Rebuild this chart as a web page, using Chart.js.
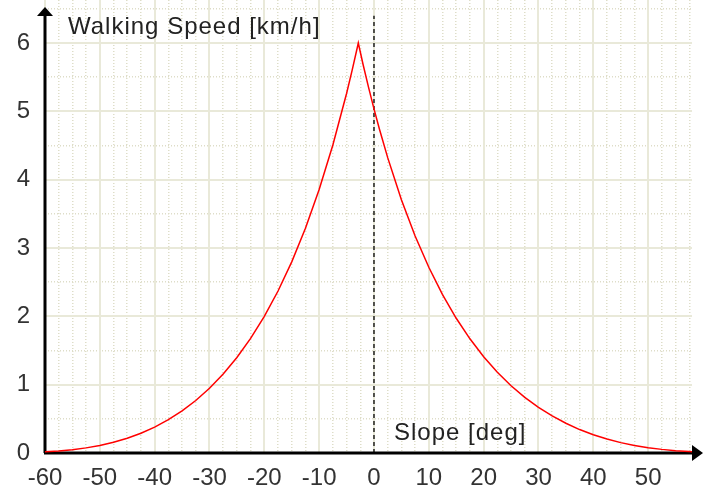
<!DOCTYPE html>
<html>
<head>
<meta charset="utf-8">
<script src="https://cdn.jsdelivr.net/npm/chart.js@4/dist/chart.umd.min.js"></script>
<style>
  body { margin: 0; background: #fff; }
  #wrap { width: 708px; height: 491px; position: relative; }
</style>
</head>
<body>
<div id="wrap"><canvas id="speedChart"></canvas></div>
<script>
// slope in degrees, walking speed in km/h
var slopeDeg = [-60, -57.5, -55, -52.5, -50, -47.5, -45, -42.5, -40, -37.5, -35, -32.5, -30, -27.5, -25, -22.5, -20, -17.5, -15, -12.5, -10, -7.5, -5, -4, -3, -2.86, -2, -1, 0, 1, 2.5, 5, 7.5, 10, 12.5, 15, 17.5, 20, 22.5, 25, 27.5, 30, 32.5, 35, 37.5, 40, 42.5, 45, 47.5, 50, 52.5, 55, 57.5, 58];
var speedKmh = [0.017, 0.029, 0.048, 0.075, 0.11, 0.157, 0.216, 0.289, 0.379, 0.487, 0.616, 0.768, 0.947, 1.156, 1.397, 1.677, 2.0, 2.371, 2.798, 3.29, 3.856, 4.508, 5.262, 5.596, 5.95, 6.0, 5.69, 5.354, 5.037, 4.738, 4.323, 3.708, 3.177, 2.718, 2.318, 1.972, 1.671, 1.409, 1.182, 0.985, 0.814, 0.668, 0.542, 0.435, 0.343, 0.267, 0.204, 0.152, 0.11, 0.078, 0.053, 0.034, 0.021, 0.018];
var zeroLineX = [0, 0];
var zeroLineY = [0, 6.4];
var xTicks = [-60, 58];
var yTicks = [0, 6.63];
var yTitle = "Walking Speed [km/h]";
var xTitle = "Slope [deg]";

var FONT = "'Liberation Sans', Arial, sans-serif";
var majorGrid = "#e9e9d9";
var minorGrid = "#deddc8";

function noPad(s) {
  s.paddingTop = 0;
  s.paddingBottom = 0;
  s.paddingLeft = 0;
  s.paddingRight = 0;
}

// black axes with arrow heads + the two axis captions
var axesPlugin = {
  id: "axesPlugin",
  beforeDatasetsDraw: function (chart) {
    var c = chart.ctx;
    var x0 = chart.scales.x.getPixelForValue(-60);
    var y0 = chart.scales.y.getPixelForValue(0);
    c.save();
    c.strokeStyle = "#000";
    c.fillStyle = "#000";
    c.lineWidth = 3;
    c.beginPath();
    c.moveTo(x0, y0);
    c.lineTo(x0, 14);
    c.moveTo(x0 - 1, y0);
    c.lineTo(695, y0);
    c.stroke();
    c.beginPath();
    c.moveTo(x0, 7);
    c.lineTo(x0 - 8, 16);
    c.lineTo(x0 + 8, 16);
    c.closePath();
    c.fill();
    c.beginPath();
    c.moveTo(703, y0);
    c.lineTo(692, y0 - 8);
    c.lineTo(692, y0 + 8);
    c.closePath();
    c.fill();
    c.restore();
  },
  afterDraw: function (chart) {
    var c = chart.ctx;
    c.save();
    c.fillStyle = "#222";
    c.font = "24px " + FONT;
    c.letterSpacing = "1px";
    c.textBaseline = "alphabetic";
    c.fillText(yTitle, 68, 34);
    c.fillText(xTitle, 394, 440);
    c.restore();
  },
};

var ctx = document.getElementById("speedChart").getContext("2d");
var chart = new Chart(ctx, {
  type: "scatter",
  data: {
    datasets: [
      {
        label: "speed",
        data: slopeDeg.map((d, i) => ({ x: d, y: speedKmh[i] })),
        showLine: true,
        borderColor: "#ff0000",
        borderWidth: 1.5,
        pointRadius: 0,
        tension: 0,
      },
      {
        label: "zero",
        data: zeroLineX.map((d, i) => ({ x: d, y: zeroLineY[i] })),
        showLine: true,
        borderColor: "#000",
        borderWidth: 1.3,
        borderDash: [4, 3],
        pointRadius: 0,
      },
    ],
  },
  options: {
    responsive: true,
    maintainAspectRatio: false,
    animation: false,
    layout: { padding: { top: 0, right: 16, bottom: 0, left: 0 } },
    plugins: { legend: { display: false }, tooltip: { enabled: false } },
    scales: {
      xMinor: {
        type: "linear",
        position: "bottom",
        min: xTicks[0],
        max: xTicks[1],
        ticks: { display: false, stepSize: 2.5, includeBounds: false },
        grid: {
          drawTicks: false,
          lineWidth: 1.5,
          color: (c) => (c.tick && c.tick.value % 10 === 0 ? "rgba(0,0,0,0)" : minorGrid),
        },
        border: { display: false, dash: [1, 2] },
        afterFit: (s) => { s.height = 0; noPad(s); },
      },
      yMinor: {
        type: "linear",
        position: "left",
        min: yTicks[0],
        max: yTicks[1],
        ticks: { display: false, stepSize: 0.5, includeBounds: false },
        grid: {
          drawTicks: false,
          lineWidth: 1.5,
          color: (c) => (c.tick && c.tick.value % 1 === 0 ? "rgba(0,0,0,0)" : minorGrid),
        },
        border: { display: false, dash: [1, 2] },
        afterFit: (s) => { s.width = 0; noPad(s); },
      },
      x: {
        type: "linear",
        position: "bottom",
        min: xTicks[0],
        max: xTicks[1],
        ticks: {
          stepSize: 10,
          includeBounds: false,
          padding: 11,
          color: "#333",
          font: { family: FONT, size: 24 },
          maxRotation: 0,
          autoSkip: false,
        },
        grid: { drawTicks: false, color: majorGrid, lineWidth: 2 },
        border: { display: false },
        afterFit: (s) => { s.height = 38; noPad(s); },
      },
      y: {
        type: "linear",
        position: "left",
        min: yTicks[0],
        max: yTicks[1],
        ticks: {
          stepSize: 1,
          includeBounds: false,
          padding: 15,
          color: "#333",
          font: { family: FONT, size: 24 },
        },
        grid: { drawTicks: false, color: majorGrid, lineWidth: 2 },
        border: { display: false },
        afterFit: (s) => { s.width = 45; noPad(s); },
      },
    },
  },
  plugins: [axesPlugin],
});
</script>
</body>
</html>
